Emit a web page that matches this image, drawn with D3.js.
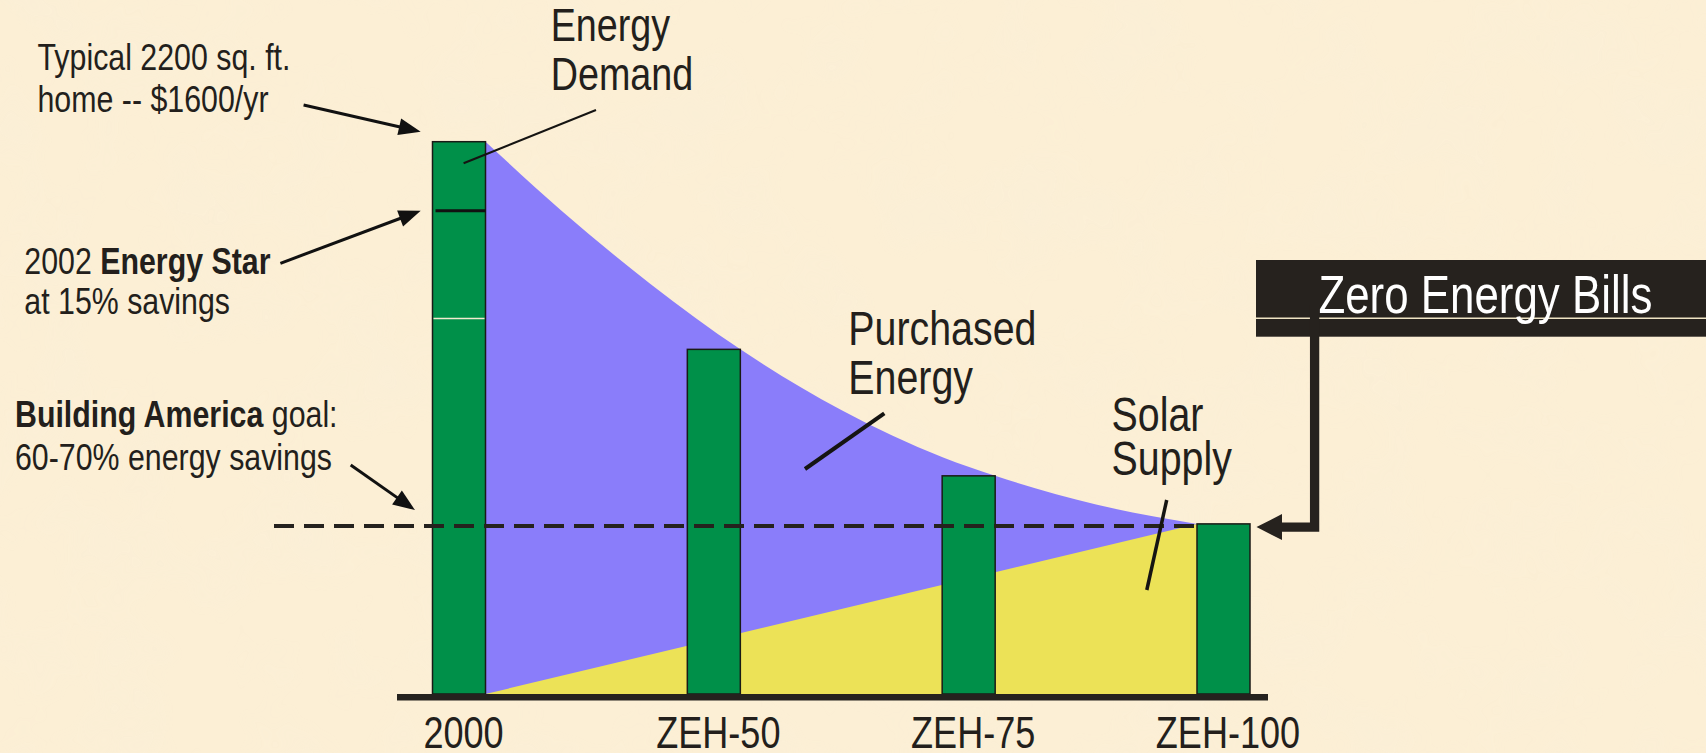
<!DOCTYPE html>
<html><head><meta charset="utf-8">
<script src="https://cdn.jsdelivr.net/npm/d3@7"></script>
<style>
html,body{margin:0;padding:0;background:#fcefd5;overflow:hidden;}
svg{display:block;}
text{font-family:"Liberation Sans","Arial",sans-serif;fill:#231f1c;}
</style></head><body>
<svg id="chart" width="1706" height="753"></svg>
<script>
// ---------- data ----------
const categories = ["2000", "ZEH-50", "ZEH-75", "ZEH-100"];
const energyDemand = [100, 62.4, 39.5, 30.8];          // bar heights (% of 2000 demand)
const energyStarLevel = 87.5;                           // 2002 Energy Star mark on 2000 bar
const innerLevel = 68;                                  // thin light mark on 2000 bar
const buildingAmericaGoal = 30.4;                       // dashed goal line
const solarSupply = [0, 30.8];                          // solar supply from 2000 to ZEH-100 (linear)
// demand curve (upper edge of purchased energy), position in category-index units
const demandCurveT = [0.104, 0.4, 0.75, 1.104, 1.5, 1.9, 2.104, 2.5, 2.896];
const demandCurveV = [100, 87.6, 74.3, 62.4, 51.4, 42.8, 39.5, 34.3, 30.8];

// ---------- layout ----------
const W = 1706, H = 753;
const SX = 0.82; // horizontal condensing of the typeface
const svg = d3.select("#chart");
const x = d3.scalePoint().domain(categories).range([459, 1223.5]);
const tIdx = d3.scaleLinear().domain([0, categories.length - 1]).range(x.range());
const y = d3.scaleLinear().domain([0, 100]).range([694, 141.7]);
const barW = 53;
const ink = "#231f1c";

const defs = svg.append("defs");
const f = defs.append("filter").attr("id", "paper").attr("x", 0).attr("y", 0).attr("width", 1).attr("height", 1);
f.append("feTurbulence").attr("type", "fractalNoise").attr("baseFrequency", 0.012).attr("numOctaves", 3).attr("seed", 7);
f.append("feColorMatrix").attr("type", "matrix")
  .attr("values", "0 0 0 0 0.94  0 0 0 0 0.86  0 0 0 0 0.70  0 0 0 1.2 -0.5");

svg.append("rect").attr("width", W).attr("height", H).attr("fill", "#fcefd5");
svg.append("rect").attr("width", W).attr("height", H).attr("filter", "url(#paper)").attr("opacity", 0.6);

// purple purchased energy area
const curvePts = demandCurveT.map((t, i) => [t, demandCurveV[i]]);
svg.append("path")
  .datum(curvePts)
  .attr("fill", "#8a7dfa")
  .attr("d", d3.area().x(d => tIdx(d[0])).y0(y(0)).y1(d => y(d[1])).curve(d3.curveMonotoneX));

// yellow solar supply
const x0 = x(categories[0]) + barW / 2;
const x1 = x(categories[categories.length - 1]) - barW / 2;
svg.append("path")
  .datum([[x0, solarSupply[0]], [x1, solarSupply[1]]])
  .attr("fill", "#ece257")
  .attr("d", d3.area().x(d => d[0]).y0(y(0)).y1(d => y(d[1])));

// bars
svg.selectAll("rect.bar").data(categories).enter().append("rect")
  .attr("class", "bar")
  .attr("x", d => x(d) - barW / 2)
  .attr("y", (d, i) => y(energyDemand[i]))
  .attr("width", barW)
  .attr("height", (d, i) => y(0) - y(energyDemand[i]))
  .attr("fill", "#009049")
  .attr("stroke", "#1a1a16")
  .attr("stroke-width", 1.5);

// marks on the 2000 bar
const bx = x(categories[0]) - barW / 2;
svg.append("line").attr("x1", bx + 3).attr("x2", bx + barW).attr("y1", y(energyStarLevel)).attr("y2", y(energyStarLevel))
  .attr("stroke", "#111").attr("stroke-width", 3);
svg.append("line").attr("x1", bx + 1).attr("x2", bx + barW - 1).attr("y1", y(innerLevel)).attr("y2", y(innerLevel))
  .attr("stroke", "#f3ead0").attr("stroke-width", 1.5);

// dashed goal line
svg.append("line").attr("x1", 274).attr("x2", x1).attr("y1", y(buildingAmericaGoal)).attr("y2", y(buildingAmericaGoal))
  .attr("stroke", "#25221e").attr("stroke-width", 4).attr("stroke-dasharray", "20,10");

// baseline
svg.append("rect").attr("x", 397).attr("y", y(0)).attr("width", 871).attr("height", 6.5).attr("fill", "#25221e");

// x axis labels
const axis = svg.append("g").attr("transform", `translate(0,${y(0)})`)
  .call(d3.axisBottom(x).tickSize(0).tickPadding(0));
axis.select(".domain").remove();
axis.selectAll("text").attr("y", 0).attr("dy", 0).attr("x", 0)
  .attr("transform", `translate(4,54) scale(${SX},1)`)
  .style("font-size", "44px").style("font-family", null).attr("fill", ink);

// helper arrows
function arrow(xa, ya, xb, yb, w, len, hw, col) {
  const ang = Math.atan2(yb - ya, xb - xa);
  const bxp = xb - len * Math.cos(ang), byp = yb - len * Math.sin(ang);
  svg.append("line").attr("x1", xa).attr("y1", ya).attr("x2", bxp + 2 * Math.cos(ang)).attr("y2", byp + 2 * Math.sin(ang))
    .attr("stroke", col).attr("stroke-width", w);
  const px = -Math.sin(ang) * hw, py = Math.cos(ang) * hw;
  svg.append("polygon").attr("points", `${xb},${yb} ${bxp + px},${byp + py} ${bxp - px},${byp - py}`).attr("fill", col);
}
arrow(303.6, 105, 420.7, y(100) - 10, 3, 22, 8.5, "#111");
arrow(280.4, 263.3, 420.7, y(energyStarLevel), 3, 22, 8.5, "#111");
arrow(350.7, 465, 415, y(buildingAmericaGoal) - 16, 3, 22, 8.5, "#111");

// pointer lines
function seg(xa, ya, xb, yb, w) {
  svg.append("line").attr("x1", xa).attr("y1", ya).attr("x2", xb).attr("y2", yb)
    .attr("stroke", "#151412").attr("stroke-width", w);
}
seg(463.6, 163.3, 596, 110, 2);
seg(805, 469, 884.3, 413.3, 4);
seg(1166.7, 500, 1146.8, 590, 3.5);

// text helper (condensed by horizontal scaling)
function label(xp, yp, parts, size, fill) {
  const tx = svg.append("text").attr("x", 0).attr("y", 0)
    .attr("transform", `translate(${xp},${yp}) scale(${SX},1)`)
    .style("font-size", size + "px");
  if (fill) tx.style("fill", fill);
  parts.forEach(p => {
    const s = tx.append("tspan").text(p[0]);
    if (p[1]) s.style("font-weight", "bold");
  });
  return tx;
}
label(37.5, 70, [["Typical 2200 sq. ft."]], 37);
label(37.5, 112, [["home -- $1600/yr"]], 37);
label(24.3, 274, [["2002 "], ["Energy Star", true]], 37);
label(24.3, 314, [["at 15% savings"]], 37);
label(15, 427, [["Building America", true], [" goal:"]], 37);
label(15, 470, [["60-70% energy savings"]], 37);

label(550.7, 41, [["Energy"]], 46);
label(550.7, 90, [["Demand"]], 46);
label(848.3, 345, [["Purchased"]], 48);
label(848.3, 393.5, [["Energy"]], 48);
label(1111.6, 431, [["Solar"]], 48);
label(1111.6, 475, [["Supply"]], 48);

// Zero Energy Bills callout
svg.append("rect").attr("x", 1256).attr("y", 260).attr("width", W - 1256).attr("height", 76.7).attr("fill", "#26221e");
svg.append("line").attr("x1", 1256).attr("x2", W).attr("y1", 318.3).attr("y2", 318.3)
  .attr("stroke", "#efe4c4").attr("stroke-width", 1.5);
label(1318.4, 312.7, [["Zero Energy Bills"]], 53.5, "#ffffff");
const lastRight = x(categories[categories.length - 1]) + barW / 2;
svg.append("path").attr("d", `M1314.6,305 V${y(buildingAmericaGoal) + 1} H1280`)
  .attr("fill", "none").attr("stroke", "#26221e").attr("stroke-width", 9.3).attr("stroke-linejoin", "miter");
const ty = y(buildingAmericaGoal) + 1;
svg.append("polygon").attr("points", `${lastRight + 6.5},${ty} 1282,${ty - 13} 1282,${ty + 13}`).attr("fill", "#26221e");
</script>
</body></html>
